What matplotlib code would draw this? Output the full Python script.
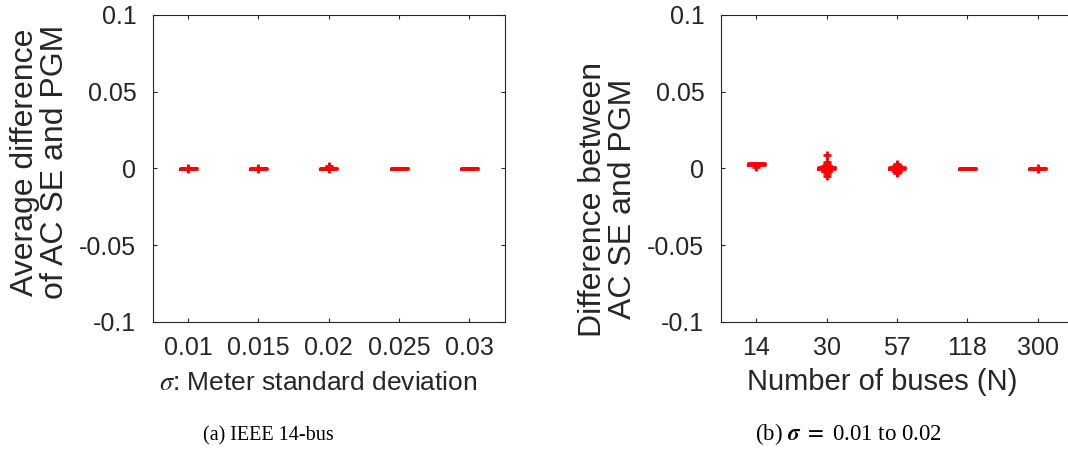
import matplotlib
matplotlib.use("Agg")
import matplotlib.pyplot as plt

plt.rcParams["font.family"] = ["Liberation Sans", "DejaVu Sans"]
plt.rcParams["mathtext.fontset"] = "stix"

gris = "#262626"

# Panel (a): boxplot summaries per meter sigma
sigmas = ["0.01", "0.015", "0.02", "0.025", "0.03"]
a_med = [0.0, 0.0, 0.0, 0.0, 0.0]
a_q1 = [-0.0002, -0.0002, -0.0004, -0.0002, -0.0002]
a_q3 = [0.0002, 0.0002, 0.0004, 0.0002, 0.0002]
a_lo = [-0.0004, -0.0004, -0.0006, -0.0003, -0.0003]
a_hi = [0.0004, 0.0004, 0.0006, 0.0003, 0.0003]
a_out = [[0.0003, -0.0003], [0.0003, -0.0003], [0.0018, 0.0008, -0.0006], [], []]

# Panel (b): boxplot summaries per system size
buses = ["14", "30", "57", "118", "300"]
b_med = [0.0029, 0.0, 0.0, 0.0, 0.0]
b_q1 = [0.0022, -0.0006, -0.0005, -0.0002, -0.0002]
b_q3 = [0.0036, 0.0008, 0.0008, 0.0002, 0.0002]
b_lo = [0.0020, -0.0015, -0.0015, -0.0003, -0.0003]
b_hi = [0.0038, 0.0018, 0.0015, 0.0003, 0.0003]
b_out = [[0.0012],
         [0.0088, 0.004, 0.003, 0.0025, -0.002, -0.003, -0.0052],
         [0.003, 0.002, -0.002, -0.003],
         [],
         [0.0003, -0.0003]]

yticks = [-0.1, -0.05, 0, 0.05, 0.1]
ylabs = ["-0.1", "-0.05", "0", "0.05", "0.1"]


def stats(med, q1, q3, lo, hi, out):
    return [dict(med=med[i], q1=q1[i], q3=q3[i], whislo=lo[i], whishi=hi[i],
                 fliers=out[i]) for i in range(len(med))]


def dibujar(ax, st, labels, xlabel, xsize, xpos, ylabel, ypos):
    rojo = dict(color="red", linewidth=2)
    ax.bxp(st, widths=0.24, showfliers=True, boxprops=rojo, medianprops=rojo,
           whiskerprops=rojo, capprops=rojo,
           flierprops=dict(marker="+", markeredgecolor="red", markersize=6,
                           markeredgewidth=2))
    ax.set_xlim(0.5, 5.5)
    ax.set_ylim(-0.1, 0.1)
    ax.set_xticks(range(1, 6))
    ax.set_xticklabels(labels)
    ax.set_yticks(yticks)
    ax.set_yticklabels(ylabs)
    ax.tick_params(direction="in", top=True, right=True, length=3, width=0.8,
                   labelsize=18, colors=gris)
    ax.tick_params(axis="x", pad=10)
    ax.tick_params(axis="y", pad=12)
    for s in ax.spines.values():
        s.set_color(gris)
        s.set_linewidth(0.8)
    ax.set_xlabel(xlabel, fontsize=xsize, color=gris, va="baseline")
    ax.xaxis.set_label_coords(xpos, -0.2215)
    ax.set_ylabel(ylabel, fontsize=23, color=gris, linespacing=1.0)
    ax.yaxis.set_label_coords(-0.235, ypos)


fig = plt.figure(figsize=(10.68, 4.49), dpi=100)
ax1 = fig.add_axes([0.1433, 0.2829, 0.3291, 0.6837])
ax2 = fig.add_axes([0.6751, 0.2829, 0.3296, 0.6837])

dibujar(ax1, stats(a_med, a_q1, a_q3, a_lo, a_hi, a_out), sigmas,
        r"$\sigma$: Meter standard deviation", 19, 0.469,
        "Average difference\nof AC SE and PGM", 0.52)
dibujar(ax2, stats(b_med, b_q1, b_q3, b_lo, b_hi, b_out), buses,
        "Number of buses (N)", 21, 0.457,
        "Difference between\nAC SE and PGM", 0.40)

# Captions
fig.text(268 / 1068, 1 - 440 / 449, "(a) IEEE 14-bus", ha="center", va="baseline",
         fontsize=14.5, family="Liberation Serif", color="black")
fig.text(849 / 1068, 1 - 440 / 449, r"(b) $\boldsymbol{\sigma}\ =\ $0.01 to 0.02",
         ha="center", va="baseline", fontsize=16.5, family="Liberation Serif",
         color="black")

fig.savefig("out.png", dpi=100, facecolor="white")
